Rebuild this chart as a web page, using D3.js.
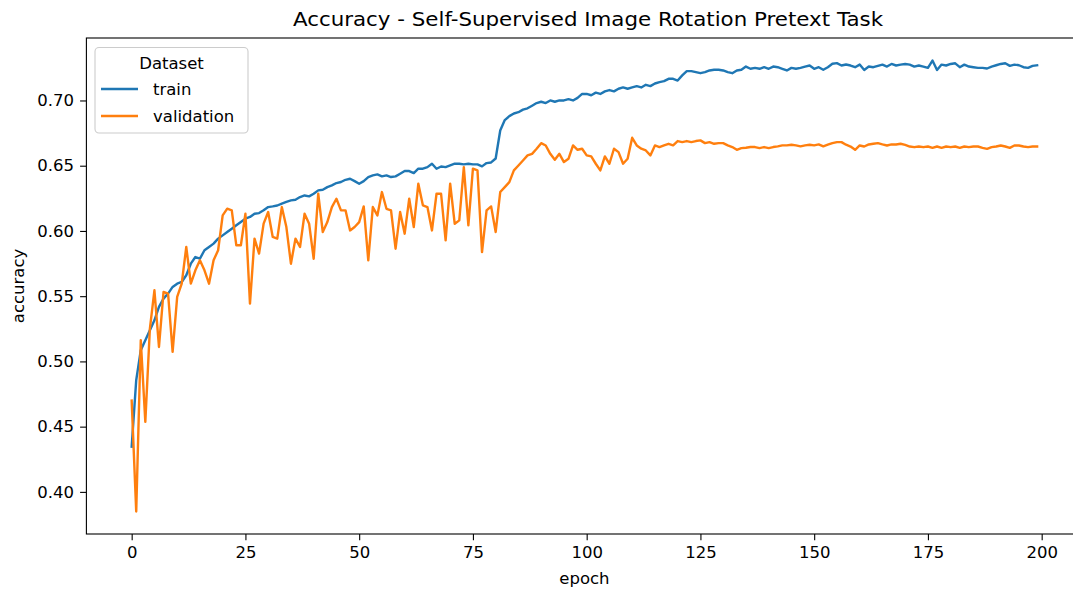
<!DOCTYPE html>
<html>
<head>
<meta charset="utf-8">
<script src="https://cdn.jsdelivr.net/npm/d3@7"></script>
<style>
  body { margin: 0; background: #fff; }
  text { font-family: "DejaVu Sans", sans-serif; fill: #000; }
</style>
</head>
<body>
<svg id="chart" width="1073" height="590"></svg>
<script>
// accuracy per epoch
var train = [
  0.4346,0.4856,0.5086,0.5162,0.5239,0.5315,0.5418,0.5481,0.5520,0.5571,
  0.5596,0.5609,0.5660,0.5749,0.5800,0.5788,0.5852,0.5877,0.5903,0.5941,
  0.5966,0.5992,0.6017,0.6043,0.6068,0.6094,0.6107,0.6132,0.6137,0.6158,
  0.6183,0.6188,0.6195,0.6210,0.6223,0.6234,0.6239,0.6260,0.6272,0.6265,
  0.6285,0.6311,0.6316,0.6336,0.6349,0.6367,0.6375,0.6392,0.6400,0.6382,
  0.6362,0.6382,0.6413,0.6426,0.6433,0.6418,0.6426,0.6413,0.6418,0.6438,
  0.6459,0.6459,0.6443,0.6477,0.6477,0.6489,0.6515,0.6477,0.6494,0.6489,
  0.6502,0.6515,0.6515,0.6510,0.6515,0.6510,0.6510,0.6495,0.6520,0.6525,
  0.6555,0.677,0.685,0.688,0.690,0.691,0.693,0.694,0.696,0.698,
  0.699,0.698,0.700,0.699,0.700,0.700,0.701,0.700,0.702,0.705,
  0.705,0.704,0.706,0.705,0.707,0.708,0.707,0.709,0.710,0.709,
  0.710,0.711,0.710,0.712,0.711,0.713,0.7141,0.7148,0.7166,0.7166,
  0.7153,0.7192,0.7225,0.7225,0.7217,0.7209,0.7217,0.7230,0.7235,0.7235,
  0.7230,0.7217,0.7209,0.7230,0.7235,0.7260,0.7243,0.7250,0.7243,0.7255,
  0.7243,0.7260,0.7255,0.7243,0.7230,0.7250,0.7243,0.7250,0.7260,0.7268,
  0.7243,0.7255,0.7235,0.7255,0.7281,0.7286,0.7268,0.7276,0.7268,0.7255,
  0.7275,0.7234,0.7260,0.7255,0.7265,0.7275,0.7260,0.7280,0.7268,0.7275,
  0.7280,0.7275,0.7260,0.7268,0.7260,0.7250,0.7306,0.7234,0.7275,0.7268,
  0.7280,0.7285,0.7255,0.7275,0.7260,0.7255,0.7250,0.7250,0.7245,0.7260,
  0.7270,0.7280,0.7285,0.7265,0.7275,0.7270,0.7255,0.7250,0.7265,0.7270
];

var validation = [
  0.470,0.385,0.5162,0.4537,0.525,0.5545,0.5111,0.5532,0.5520,0.5073,
  0.5494,0.5596,0.5877,0.5596,0.5698,0.5775,0.5698,0.5596,0.5775,0.5852,
  0.6119,0.6171,0.6158,0.5890,0.5890,0.6132,0.5443,0.5941,0.5826,0.6056,
  0.6145,0.5954,0.5941,0.6183,0.6030,0.5749,0.5941,0.5877,0.6132,0.6055,
  0.5787,0.6285,0.5992,0.6068,0.6183,0.6247,0.6158,0.6158,0.6004,0.6030,
  0.6068,0.6188,0.5775,0.6183,0.6119,0.6298,0.6170,0.6158,0.5864,0.6145,
  0.5979,0.6247,0.6030,0.6362,0.6196,0.6183,0.6004,0.6285,0.6285,0.5928,
  0.6362,0.6055,0.6081,0.6489,0.6043,0.6477,0.6464,0.5838,0.6157,0.6188,
  0.5992,0.6298,0.6336,0.6374,0.6464,0.6502,0.6540,0.6579,0.6591,0.6630,
  0.6673,0.6655,0.6591,0.6545,0.6591,0.6528,0.6553,0.6655,0.6622,0.6630,
  0.6579,0.6571,0.6515,0.6464,0.6571,0.6515,0.6630,0.6604,0.6515,0.6553,
  0.6714,0.6655,0.6630,0.6617,0.6579,0.6655,0.6643,0.6656,0.6668,0.6656,
  0.6689,0.6681,0.6689,0.6681,0.6689,0.6694,0.6673,0.6681,0.6668,0.6673,
  0.6673,0.6656,0.6643,0.6622,0.6635,0.6638,0.6643,0.6643,0.6635,0.6643,
  0.6635,0.6643,0.6648,0.6656,0.6656,0.6661,0.6656,0.6648,0.6656,0.6661,
  0.6656,0.6663,0.6648,0.6661,0.6673,0.6681,0.6681,0.6661,0.6647,0.6622,
  0.6655,0.6647,0.6663,0.6668,0.6673,0.6663,0.6655,0.6663,0.6663,0.6668,
  0.6660,0.6647,0.6642,0.6647,0.6642,0.6647,0.6637,0.6647,0.6637,0.6647,
  0.6642,0.6647,0.6637,0.6647,0.6642,0.6647,0.6647,0.6637,0.6629,0.6642,
  0.6647,0.6655,0.6647,0.6637,0.6655,0.6655,0.6647,0.6642,0.6647,0.6647
];

var seriesNames = ["train", "validation"];
var seriesColors = ["#1f77b4", "#ff7f0e"];
var xTicks = [0, 25, 50, 75, 100, 125, 150, 175, 200];
var yTicks = [0.40, 0.45, 0.50, 0.55, 0.60, 0.65, 0.70];

var svg = d3.select("svg#chart");

// axes box (right edge falls outside the picture, like the reference)
var boxL = 86.4, boxR = 1082.4, boxT = 38, boxB = 534;

var epochs = d3.range(train.length);
var xPad = (epochs.length - 1) * 0.05;
var x = d3.scaleLinear()
  .domain([-xPad, epochs.length - 1 + xPad])
  .range([boxL, boxR]);

var all = train.concat(validation);
var yMin = d3.min(all), yMax = d3.max(all), yPad = (yMax - yMin) * 0.05;
var y = d3.scaleLinear()
  .domain([yMin - yPad, yMax + yPad])
  .range([boxB, boxT]);

var fs = 16.5;

// lines
var line = d3.line()
  .x(function(d, i) { return x(i); })
  .y(function(d) { return y(d); });

[train, validation].forEach(function(s, k) {
  svg.append("path")
    .datum(s)
    .attr("fill", "none")
    .attr("stroke", seriesColors[k])
    .attr("stroke-width", 2.4)
    .attr("stroke-linejoin", "round")
    .attr("stroke-linecap", "square")
    .attr("d", line);
});

// axes
var xAxis = svg.append("g")
  .attr("transform", "translate(0," + boxB + ")")
  .call(d3.axisBottom(x).tickValues(xTicks).tickSize(6.3).tickPadding(6)
    .tickFormat(d3.format("d")));

var yAxis = svg.append("g")
  .attr("transform", "translate(" + boxL + ",0)")
  .call(d3.axisLeft(y).tickValues(yTicks).tickSize(6.3).tickPadding(6)
    .tickFormat(d3.format(".2f")));

[xAxis, yAxis].forEach(function(a) {
  a.select(".domain").remove();
  a.selectAll(".tick line").attr("stroke", "#000").attr("stroke-width", 1.1);
  a.selectAll(".tick text")
    .attr("font-size", fs)
    .attr("font-family", "DejaVu Sans")
    .attr("fill", "#000");
});

// frame
svg.append("rect")
  .attr("x", boxL).attr("y", boxT)
  .attr("width", boxR - boxL).attr("height", boxB - boxT)
  .attr("fill", "none")
  .attr("stroke", "#000")
  .attr("stroke-width", 1.1);

// title and labels
svg.append("text")
  .attr("x", 588).attr("y", 26)
  .attr("text-anchor", "middle")
  .attr("font-size", 19.8)
  .attr("textLength", 590)
  .attr("lengthAdjust", "spacingAndGlyphs")
  .text("Accuracy - Self-Supervised Image Rotation Pretext Task");

svg.append("text")
  .attr("x", (boxL + boxR) / 2).attr("y", 584)
  .attr("text-anchor", "middle")
  .attr("font-size", fs)
  .text("epoch");

svg.append("text")
  .attr("transform", "translate(24," + ((boxT + boxB) / 2) + ") rotate(-90)")
  .attr("text-anchor", "middle")
  .attr("font-size", fs)
  .text("accuracy");

// legend
var legend = svg.append("g");
legend.append("rect")
  .attr("x", 95).attr("y", 47.5)
  .attr("width", 153).attr("height", 85.5)
  .attr("rx", 4)
  .attr("fill", "#fff").attr("fill-opacity", 0.8)
  .attr("stroke", "#ccc").attr("stroke-width", 1.1);

legend.append("text")
  .attr("x", 171.5).attr("y", 68.5)
  .attr("text-anchor", "middle")
  .attr("font-size", fs)
  .text("Dataset");

seriesNames.forEach(function(name, k) {
  var ly = 89 + k * 27;
  legend.append("line")
    .attr("x1", 101).attr("x2", 138)
    .attr("y1", ly).attr("y2", ly)
    .attr("stroke", seriesColors[k])
    .attr("stroke-width", 2.4);
  legend.append("text")
    .attr("x", 153).attr("y", ly + 6)
    .attr("font-size", fs)
    .text(name);
});
</script>
</body>
</html>
